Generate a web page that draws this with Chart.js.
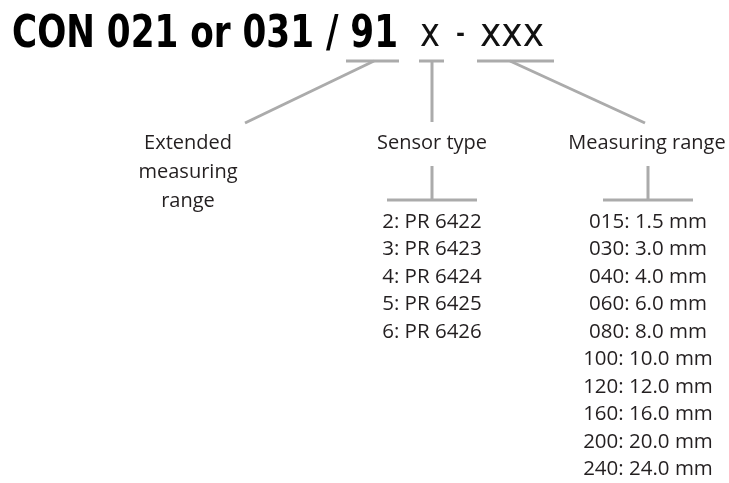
<!DOCTYPE html>
<html>
<head>
<meta charset="utf-8">
<script src="https://cdn.jsdelivr.net/npm/chart.js@4.4.1/dist/chart.umd.min.js"></script>
<style>
  html, body { margin: 0; padding: 0; background: #fff; }
  #wrap { width: 729px; height: 483px; }
</style>
</head>
<body>
<div id="wrap"><canvas id="codeChart"></canvas></div>
<script>
// Order code parts
const codeBold = 'CON 021 or 031 / 91';
const codePlain = ['x', '-', 'xxx'];

// Group headings
const groupTitles = [['Extended', 'measuring', 'range'], ['Sensor type'], ['Measuring range']];

// Option lists
const sensorTypes = ['2: PR 6422', '3: PR 6423', '4: PR 6424', '5: PR 6425', '6: PR 6426'];
const rangeCodes = ['015', '030', '040', '060', '080', '100', '120', '160', '200', '240'];
const rangeMm = [1.5, 3.0, 4.0, 6.0, 8.0, 10.0, 12.0, 16.0, 20.0, 24.0];
const rangeLabels = rangeCodes.map((c, i) => c + ': ' + rangeMm[i].toFixed(1) + ' mm');

// Connector segments [x1, y1, x2, y2] in diagram units
const underlines = [[346, 61, 399, 61], [419, 61, 444, 61], [477, 61, 554, 61]];
const leaders = [[374, 61, 245, 123], [432, 61, 432, 122], [510, 61, 645, 123]];
const brackets = [[432, 166, 432, 200], [387, 200, 477, 200], [648, 166, 648, 200], [603, 200, 693, 200]];

const lineColor = '#ababab';
const textColor = '#231f20';

const segDatasets = underlines.concat(leaders, brackets).map(s => ({
    data: [{x: s[0], y: s[1]}, {x: s[2], y: s[3]}],
    showLine: true,
    borderColor: lineColor,
    borderWidth: 3,
    pointRadius: 0,
    borderCapStyle: 'butt'
}));

// squeeze text horizontally so it fills left..right
function fitText(ctx, text, left, right, base) {
    const w = ctx.measureText(text).width;
    ctx.save();
    ctx.translate(left, base);
    ctx.scale((right - left) / w, 1);
    ctx.fillText(text, 0, 0);
    ctx.restore();
}

// Text drawing plugin
const textPlugin = {
    id: 'diagramText',
    afterDatasetsDraw(chart) {
        const ctx = chart.ctx;
        const xs = chart.scales.x, ys = chart.scales.y;
        const px = v => xs.getPixelForValue(v);
        const py = v => ys.getPixelForValue(v);
        ctx.save();
        ctx.fillStyle = '#000';
        ctx.textBaseline = 'alphabetic';
        ctx.textAlign = 'left';

        // Title
        ctx.font = 'bold 44px "DejaVu Sans", sans-serif';
        fitText(ctx, codeBold, px(12), px(398), py(47));
        ctx.fillStyle = '#111';
        ctx.font = '40px "DejaVu Sans", sans-serif';
        fitText(ctx, codePlain[0], px(420), px(440), py(46));
        fitText(ctx, codePlain[1], px(456), px(465), py(46));
        fitText(ctx, codePlain[2], px(480), px(544), py(46));

        // Headings and lists
        ctx.fillStyle = textColor;
        ctx.textAlign = 'center';
        ctx.textBaseline = 'middle';
        ctx.font = '20px "Open Sans", sans-serif';
        const headX = [188, 432, 647];
        groupTitles.forEach((lines, g) => {
            lines.forEach((t, i) => ctx.fillText(t, px(headX[g]), py(143 + i * 29)));
        });
        ctx.font = '20.5px "Open Sans", sans-serif';
        sensorTypes.forEach((t, i) => ctx.fillText(t, px(432), py(222 + i * 27.5)));
        rangeLabels.forEach((t, i) => ctx.fillText(t, px(648), py(222 + i * 27.5)));
        ctx.restore();
    }
};

new Chart(document.getElementById('codeChart').getContext('2d'), {
    type: 'scatter',
    data: { datasets: segDatasets },
    options: {
        responsive: true,
        maintainAspectRatio: false,
        animation: false,
        layout: { padding: 0 },
        plugins: { legend: { display: false }, tooltip: { enabled: false } },
        scales: {
            x: { type: 'linear', min: 0, max: 729, display: false },
            y: { type: 'linear', min: 0, max: 483, reverse: true, display: false }
        }
    },
    plugins: [textPlugin]
});
</script>
</body>
</html>
